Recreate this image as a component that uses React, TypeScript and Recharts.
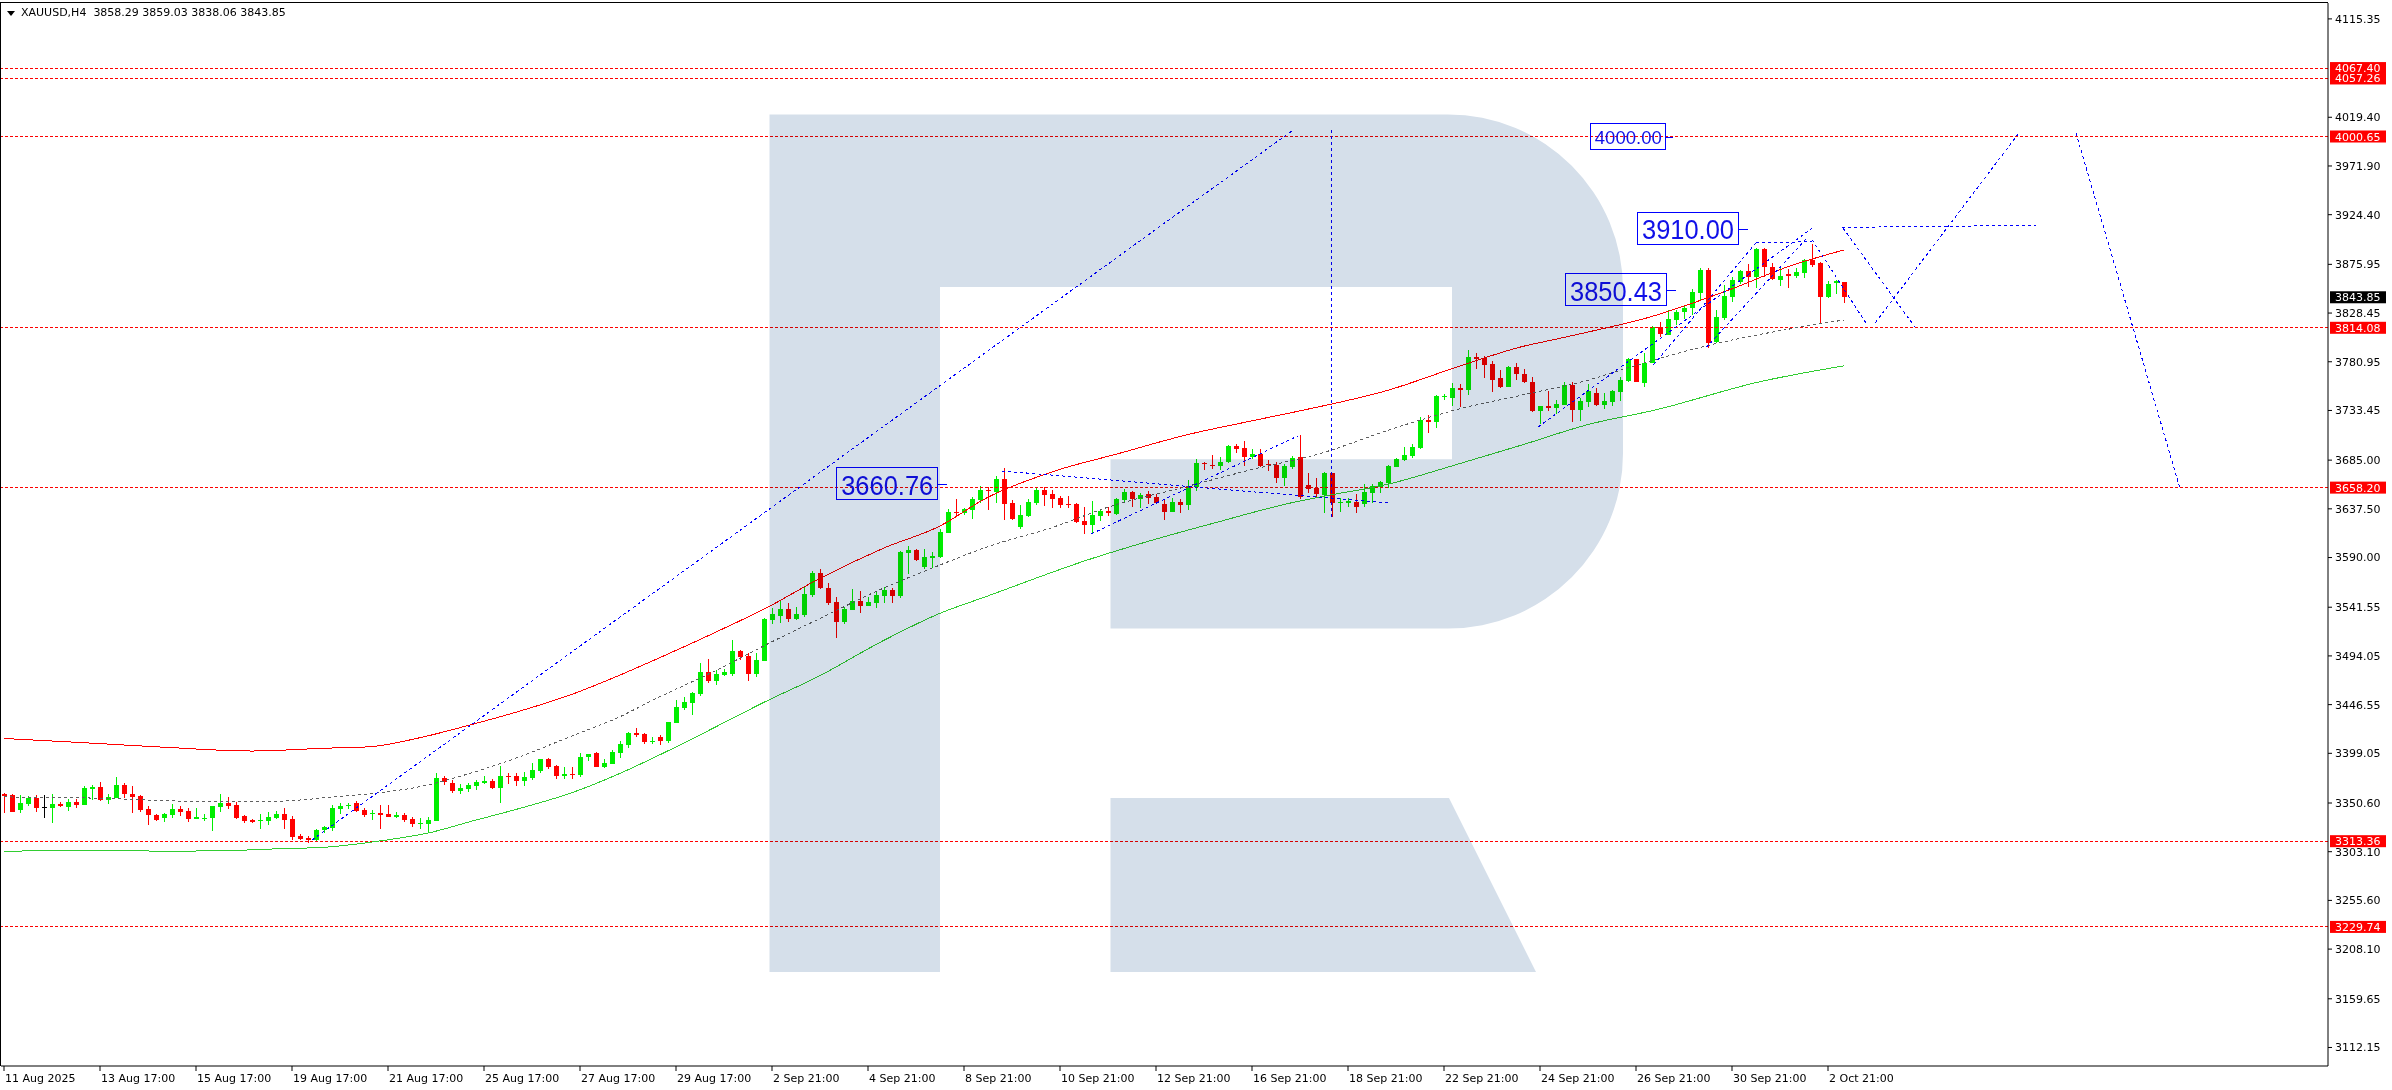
import React from 'react';
import { ComposedChart, Bar, Line, XAxis, YAxis, ReferenceLine, ReferenceDot } from 'recharts';

// XAUUSD H4, 11 Aug - 3 Oct 2025
const OPEN = [
  3359.7, 3358.4, 3343.8, 3349.9, 3355.8, 3346.4, 3346.1, 3349.3, 3347.0, 3351.5,
  3348.6, 3364.3, 3365.9, 3353.5, 3355.8, 3368.2, 3359.4, 3357.4, 3344.4, 3338.9,
  3336.0, 3338.9, 3344.8, 3342.8, 3335.3, 3335.6, 3336.3, 3347.0, 3350.9, 3348.6,
  3337.9, 3334.0, 3332.7, 3333.0, 3336.0, 3340.2, 3335.0, 3318.4, 3316.5, 3314.5,
  3324.3, 3326.5, 3344.8, 3347.4, 3350.3, 3343.8, 3339.5, 3340.9, 3339.9, 3337.3,
  3338.9, 3335.0, 3330.6, 3330.4, 3333.0, 3375.0, 3370.1, 3362.3, 3364.3, 3367.5,
  3370.1, 3372.1, 3365.6, 3377.3, 3376.9, 3372.4, 3375.3, 3382.1, 3393.8, 3386.7,
  3377.3, 3378.9, 3377.9, 3395.1, 3399.0, 3385.7, 3389.0, 3399.7, 3407.2, 3418.6,
  3417.6, 3410.4, 3414.5, 3411.0, 3429.0, 3443.3, 3447.8, 3456.9, 3478.4, 3469.9,
  3475.8, 3476.4, 3498.8, 3494.0, 3476.7, 3489.1, 3529.1, 3533.1, 3539.5, 3530.1,
  3533.6, 3553.1, 3574.9, 3560.6, 3546.6, 3527.5, 3539.2, 3547.6, 3543.1, 3546.0,
  3552.8, 3558.4, 3552.8, 3594.8, 3597.4, 3580.8, 3589.9, 3590.2, 3613.9, 3634.4,
  3633.1, 3636.7, 3646.1, 3655.9, 3654.3, 3666.6, 3642.9, 3619.5, 3630.5, 3643.5,
  3655.9, 3652.0, 3648.1, 3641.9, 3642.2, 3625.6, 3621.7, 3630.5, 3635.7, 3632.5,
  3646.1, 3653.9, 3646.8, 3651.6, 3648.7, 3642.2, 3634.4, 3644.5, 3640.9, 3658.5,
  3682.5, 3680.6, 3679.6, 3682.9, 3699.1, 3697.2, 3688.4, 3691.3, 3680.9, 3680.6,
  3667.9, 3678.6, 3688.1, 3660.4, 3658.2, 3651.0, 3672.1, 3642.9, 3643.5, 3644.2,
  3642.2, 3652.6, 3659.1, 3663.0, 3678.6, 3685.1, 3689.0, 3697.2, 3724.1, 3722.5,
  3746.9, 3745.9, 3755.3, 3753.4, 3785.9, 3784.9, 3778.8, 3764.8, 3756.7, 3775.5,
  3769.0, 3761.5, 3733.3, 3737.8, 3736.2, 3738.8, 3758.3, 3733.9, 3741.7, 3750.8,
  3738.8, 3742.0, 3751.8, 3762.2, 3783.6, 3760.3, 3780.1, 3814.5, 3807.1, 3821.7,
  3829.2, 3833.7, 3848.3, 3870.5, 3800.6, 3823.3, 3844.4, 3858.4, 3869.5, 3863.9,
  3890.6, 3873.7, 3860.7, 3866.5, 3864.6, 3867.9, 3880.2, 3877.0, 3844.4, 3857.3,
  3858.29,
];
const HIGH = [
  3360.6, 3359.4, 3358.4, 3357.4, 3358.4, 3358.4, 3359.4, 3351.9, 3354.2, 3354.2,
  3367.5, 3368.2, 3370.8, 3359.4, 3375.6, 3370.4, 3367.2, 3358.4, 3347.7, 3339.9,
  3340.5, 3349.3, 3348.0, 3345.4, 3345.4, 3339.9, 3348.0, 3359.4, 3356.1, 3351.9,
  3338.9, 3335.0, 3339.9, 3342.2, 3343.1, 3345.4, 3337.9, 3320.4, 3318.4, 3324.9,
  3328.2, 3348.7, 3350.6, 3350.6, 3352.6, 3346.1, 3343.8, 3348.7, 3348.7, 3342.2,
  3340.5, 3336.6, 3335.7, 3336.6, 3379.5, 3376.9, 3373.0, 3369.1, 3369.8, 3373.0,
  3376.9, 3373.7, 3386.7, 3380.2, 3380.2, 3380.8, 3389.3, 3393.8, 3394.8, 3387.7,
  3385.4, 3385.4, 3399.0, 3398.7, 3400.0, 3393.2, 3402.3, 3411.1, 3420.2, 3423.4,
  3418.9, 3414.6, 3416.5, 3429.9, 3451.1, 3454.3, 3459.2, 3486.8, 3490.7, 3480.3,
  3481.0, 3509.6, 3499.8, 3497.2, 3496.6, 3531.4, 3540.5, 3547.6, 3545.3, 3542.1,
  3561.6, 3576.9, 3578.8, 3564.8, 3551.2, 3542.1, 3559.0, 3557.4, 3551.8, 3557.4,
  3561.6, 3560.0, 3596.4, 3601.3, 3598.3, 3598.3, 3595.4, 3617.5, 3637.0, 3646.8,
  3638.6, 3649.4, 3659.8, 3659.1, 3669.5, 3677.0, 3646.1, 3641.2, 3646.8, 3657.5,
  3658.5, 3655.9, 3650.3, 3650.0, 3643.5, 3639.0, 3645.5, 3637.7, 3639.6, 3647.7,
  3656.9, 3655.2, 3652.6, 3654.6, 3652.0, 3646.1, 3647.7, 3646.8, 3665.6, 3686.1,
  3683.5, 3690.0, 3688.4, 3699.8, 3700.4, 3703.7, 3695.5, 3695.9, 3685.1, 3683.5,
  3680.9, 3689.4, 3709.5, 3672.1, 3667.3, 3673.8, 3672.8, 3647.7, 3647.7, 3652.0,
  3661.7, 3661.7, 3664.9, 3680.2, 3686.8, 3697.5, 3700.7, 3726.7, 3729.0, 3748.5,
  3749.2, 3759.9, 3759.3, 3792.4, 3789.2, 3786.6, 3782.0, 3772.9, 3776.8, 3780.1,
  3773.6, 3765.8, 3738.0, 3752.4, 3743.7, 3761.5, 3761.5, 3745.3, 3759.3, 3755.0,
  3750.8, 3753.4, 3766.4, 3784.6, 3784.0, 3789.2, 3815.5, 3820.1, 3831.4, 3831.4,
  3836.3, 3851.9, 3872.7, 3872.7, 3831.4, 3855.8, 3863.9, 3870.5, 3876.0, 3891.6,
  3891.6, 3877.0, 3873.7, 3871.4, 3872.7, 3881.2, 3895.5, 3878.6, 3859.7, 3860.7,
  3859.03,
];
const LOW = [
  3341.2, 3342.0, 3341.2, 3348.0, 3342.2, 3336.3, 3331.4, 3346.4, 3343.1, 3346.1,
  3348.3, 3353.5, 3352.9, 3349.6, 3355.5, 3355.8, 3341.2, 3342.2, 3329.1, 3333.5,
  3332.0, 3336.3, 3338.3, 3332.4, 3334.7, 3333.0, 3323.6, 3342.2, 3344.4, 3335.3,
  3331.4, 3330.8, 3325.2, 3329.1, 3335.0, 3325.2, 3314.5, 3314.5, 3311.9, 3312.9,
  3321.6, 3323.3, 3339.9, 3344.8, 3341.5, 3337.3, 3334.0, 3325.2, 3337.0, 3335.7,
  3332.4, 3327.5, 3325.6, 3321.0, 3332.8, 3368.2, 3360.0, 3359.7, 3361.7, 3363.3,
  3369.1, 3364.6, 3350.9, 3369.1, 3367.5, 3367.5, 3373.0, 3380.2, 3383.4, 3374.0,
  3373.7, 3373.7, 3376.3, 3391.9, 3385.6, 3385.0, 3388.7, 3394.2, 3404.6, 3415.3,
  3408.2, 3408.2, 3407.5, 3409.0, 3428.5, 3441.3, 3436.5, 3455.0, 3467.3, 3465.7,
  3474.5, 3474.5, 3490.1, 3469.9, 3473.8, 3488.8, 3525.2, 3526.5, 3526.8, 3529.1,
  3532.3, 3551.8, 3559.0, 3543.7, 3511.8, 3525.2, 3538.8, 3535.6, 3542.8, 3540.5,
  3546.0, 3545.3, 3550.2, 3573.6, 3587.0, 3579.2, 3580.1, 3589.9, 3613.6, 3629.9,
  3631.8, 3627.3, 3642.9, 3636.4, 3643.5, 3626.6, 3626.6, 3617.8, 3629.9, 3641.2,
  3640.3, 3638.6, 3638.0, 3638.0, 3623.4, 3613.0, 3612.6, 3626.0, 3630.5, 3631.5,
  3644.5, 3639.6, 3638.6, 3642.2, 3641.9, 3626.6, 3634.0, 3633.1, 3636.4, 3654.9,
  3675.4, 3676.0, 3675.4, 3681.9, 3691.6, 3679.3, 3686.4, 3678.6, 3674.7, 3663.0,
  3659.8, 3676.0, 3646.8, 3652.6, 3647.7, 3633.8, 3629.9, 3634.7, 3639.6, 3633.1,
  3639.6, 3642.9, 3652.6, 3657.5, 3678.3, 3684.5, 3686.8, 3695.5, 3711.8, 3716.7,
  3743.7, 3737.8, 3737.2, 3748.5, 3773.9, 3764.8, 3751.8, 3755.7, 3756.4, 3763.2,
  3760.6, 3732.3, 3719.9, 3732.9, 3729.7, 3738.5, 3722.5, 3723.5, 3737.2, 3737.8,
  3734.9, 3737.8, 3743.0, 3761.5, 3761.0, 3756.0, 3779.4, 3805.4, 3806.8, 3816.8,
  3822.7, 3826.6, 3841.2, 3794.0, 3798.9, 3821.7, 3839.6, 3856.5, 3854.2, 3853.2,
  3863.9, 3860.7, 3855.2, 3853.2, 3862.3, 3862.3, 3873.7, 3818.4, 3843.5, 3846.7,
  3838.06,
];
const CLOSE = [
  3357.8, 3342.2, 3350.3, 3355.8, 3345.4, 3346.4, 3349.3, 3347.7, 3351.5, 3348.6,
  3364.9, 3365.9, 3353.5, 3356.5, 3368.2, 3359.1, 3356.8, 3343.8, 3338.6, 3334.0,
  3339.9, 3344.8, 3341.8, 3335.0, 3337.0, 3336.3, 3347.7, 3350.9, 3348.0, 3336.3,
  3333.0, 3332.4, 3334.0, 3337.0, 3340.2, 3334.0, 3317.8, 3315.5, 3314.5, 3324.3,
  3327.5, 3346.1, 3348.0, 3349.0, 3343.1, 3339.2, 3341.2, 3339.2, 3337.3, 3338.9,
  3334.0, 3330.4, 3331.2, 3334.0, 3375.0, 3371.1, 3362.6, 3365.2, 3368.2, 3371.4,
  3372.1, 3365.6, 3376.9, 3376.3, 3372.4, 3375.9, 3382.8, 3393.5, 3386.0, 3377.3,
  3378.9, 3377.9, 3395.1, 3398.1, 3386.0, 3389.3, 3400.4, 3408.2, 3418.9, 3416.6,
  3410.4, 3411.1, 3411.5, 3429.3, 3443.9, 3449.1, 3457.9, 3478.4, 3469.9, 3476.4,
  3478.4, 3498.8, 3493.3, 3476.7, 3490.1, 3530.1, 3535.0, 3539.5, 3530.1, 3535.0,
  3554.4, 3574.9, 3560.3, 3546.0, 3527.5, 3539.8, 3547.6, 3543.1, 3546.6, 3553.5,
  3558.7, 3552.8, 3595.7, 3597.4, 3587.6, 3590.2, 3591.2, 3614.9, 3634.4, 3633.1,
  3637.3, 3646.8, 3655.9, 3654.6, 3666.3, 3642.2, 3627.6, 3631.2, 3644.2, 3655.9,
  3651.0, 3647.4, 3641.2, 3640.9, 3625.0, 3622.1, 3631.5, 3635.4, 3633.4, 3647.1,
  3653.9, 3646.8, 3650.7, 3648.4, 3643.5, 3634.4, 3644.2, 3641.2, 3658.5, 3682.5,
  3680.9, 3679.9, 3683.2, 3699.1, 3695.9, 3688.4, 3691.3, 3679.6, 3679.9, 3667.6,
  3679.3, 3686.8, 3648.7, 3657.2, 3651.6, 3672.1, 3642.9, 3644.2, 3645.1, 3639.6,
  3653.6, 3659.8, 3664.0, 3679.6, 3686.1, 3690.0, 3698.1, 3724.1, 3722.5, 3747.6,
  3747.9, 3755.0, 3753.7, 3785.3, 3783.9, 3778.1, 3763.2, 3756.7, 3775.8, 3768.7,
  3761.5, 3732.9, 3737.8, 3736.2, 3739.8, 3758.3, 3733.9, 3743.0, 3752.4, 3738.8,
  3742.7, 3752.4, 3763.2, 3783.6, 3761.5, 3780.1, 3814.5, 3807.7, 3822.7, 3829.2,
  3833.1, 3848.7, 3870.5, 3798.9, 3824.3, 3845.1, 3860.7, 3869.5, 3863.9, 3890.6,
  3873.7, 3861.3, 3864.6, 3864.9, 3868.2, 3880.2, 3875.3, 3844.4, 3856.8, 3859.7,
  3843.85,
];

// indicator lines, [bar index, price]
const UPPER_LINE = [
  [0, 3413.5], [10, 3409.4], [20, 3405], [31, 3401.3], [40, 3404], [45.75, 3405.5], [52, 3414.3],
  [58.25, 3426.7], [64.5, 3440.3], [70.75, 3455.9], [77, 3475.4], [81, 3489], [89.1, 3517.7],
  [95.6, 3542.1], [101.6, 3568.1], [109.9, 3599], [117, 3620.8], [122.75, 3647.8], [131.1, 3673.8],
  [139.4, 3691.6], [147.75, 3709.5], [156.1, 3723.5], [162.5, 3733.9], [173.1, 3753.4],
  [181.4, 3775.2], [189.75, 3795.7], [194.5, 3803.8], [199.1, 3811.9], [204.9, 3822.7],
  [215.3, 3850], [223.6, 3875.3], [230, 3890],
];
const MIDDLE_LINE = [
  [0, 3356.5], [13, 3355], [18, 3353.5], [25, 3352], [33, 3352], [37, 3353.5], [41, 3356.5],
  [47, 3360.7], [52, 3366.5], [58.25, 3379.5], [64.5, 3395.8], [70.75, 3415.3], [77, 3434.8],
  [81, 3450.5], [89.1, 3480.3], [95.6, 3506.3], [101.6, 3529.1], [109.9, 3560], [117, 3582.7],
  [122.75, 3600], [131.1, 3619.5], [138.2, 3639.6], [147.75, 3659.1], [156.1, 3676],
  [164.75, 3692], [173.1, 3714.4], [181.4, 3733.9], [189.75, 3748.5], [198.1, 3763.2],
  [202.8, 3774.6], [213.25, 3797.3], [223.7, 3813.6], [230, 3821.7],
];
const LOWER_LINE = [
  [0, 3303], [5, 3304.3], [20, 3303.7], [27, 3303.9], [33, 3305.6], [36, 3306.3], [40, 3307.4],
  [47, 3313.6], [53.25, 3321.7], [58.25, 3332.4], [64.5, 3345.4], [70.75, 3360], [77, 3379.5],
  [81.5, 3395.8], [85.75, 3412.1], [95.6, 3451.1], [101.6, 3473.2], [109.9, 3508.9], [117, 3535.6],
  [122.75, 3551.9], [135.7, 3588.3], [143.6, 3607.1], [151.9, 3625], [160.25, 3642.2],
  [164.75, 3649.5], [173.1, 3661.7], [181.4, 3680.3], [189.75, 3699.8], [198.1, 3719.9],
  [206.4, 3733.9], [219.5, 3761.5], [230, 3777],
];

// blue forecast segments
const FORECAST = [
  [[38.5, 3314.5], [161.2, 4007.3]],
  [[165.9, 4007], [165.9, 3626.6]],
  [[124.8, 3674.4], [173.3, 3643]],
  [[135.9, 3613], [161.7, 3708.5]],
  [[191.8, 3717.6], [226, 3911]],
  [[206.2, 3778], [219, 3897]],
  [[212.8, 3795], [225.3, 3901]],
  [[219, 3897], [226, 3898]],
  [[226, 3900], [232.8, 3818]],
  [[229.9, 3911], [238.9, 3814.5]],
  [[229.8, 3912], [254, 3914]],
  [[233.9, 3819], [252, 4005.4]],
  [[259, 4004], [272, 3657.5]],
];

const NOTES = [
  { text: '3660.76', i: 117.9, v: 3660.76, big: true },
  { text: '3850.43', i: 209, v: 3850.43, big: true },
  { text: '3910.00', i: 218, v: 3910.0, big: true },
  { text: '4000.00', i: 208.6, v: 4000.0, big: false },
];

const LEVELS = [4057.26, 4067.4, 4000.65, 3814.08, 3658.2, 3313.36, 3229.74];
const LAST_PRICE = 3843.85;

const PRICE_TICKS = [
  4115.35, 4019.4, 3971.9, 3924.4, 3875.95, 3828.45, 3780.95, 3733.45, 3685.0, 3637.5, 3590.0,
  3541.55, 3494.05, 3446.55, 3399.05, 3350.6, 3303.1, 3255.6, 3208.1, 3159.65, 3112.15,
];
const TIME_TICKS = [0, 12, 24, 36, 48, 60, 72, 84, 96, 108, 120, 132, 144, 156, 168, 180, 192, 204, 216, 228];
const TIME_LABELS = [
  '11 Aug 2025', '13 Aug 17:00', '15 Aug 17:00', '19 Aug 17:00', '21 Aug 17:00', '25 Aug 17:00',
  '27 Aug 17:00', '29 Aug 17:00', '2 Sep 21:00', '4 Sep 21:00', '8 Sep 21:00', '10 Sep 21:00',
  '12 Sep 21:00', '16 Sep 21:00', '18 Sep 21:00', '22 Sep 21:00', '24 Sep 21:00', '26 Sep 21:00',
  '30 Sep 21:00', '2 Oct 21:00',
];

const W = 2392;
const H = 1090;
const FONT = 'DejaVu Sans';
const BULL = '#00ee00';
const BEAR = '#ff0000';
const BLUE = '#0000ff';

const candles = OPEN.map((open, i) => ({ i, open, high: HIGH[i], low: LOW[i], close: CLOSE[i] }));
const pts = (arr: number[][]) => arr.map(([i, v]) => ({ i, v }));

const Candle = (props: any) => {
  const { x, y, width, height, payload } = props;
  const { open, close, high, low } = payload;
  const cx = Math.round(x + width / 2);
  const k = high > low ? height / (high - low) : 0;
  const py = (v: number) => y + (high - v) * k;
  const top = py(Math.max(open, close));
  const bot = py(Math.min(open, close));
  const color = close > open ? BULL : close < open ? BEAR : '#000';
  return (
    <g shapeRendering="crispEdges">
      <rect x={cx} y={y} width={1} height={Math.max(1, height)} fill={color} />
      <rect x={cx - 2} y={top} width={5} height={Math.max(1, bot - top)} fill={color} />
    </g>
  );
};

const XTick = (props: any) => {
  const { x, y, payload } = props;
  const k = TIME_TICKS.indexOf(payload.value);
  return (
    <text x={x + 1} y={y + 9} fontSize={11} fontFamily={FONT} fill="#000">
      {TIME_LABELS[k]}
    </text>
  );
};

const priceTag = (value: number, bg: string) => (p: any) => {
  const vb = p.viewBox;
  const x0 = vb.x + vb.width + 2;
  return (
    <g>
      <rect x={x0} y={vb.y - 6} width={56} height={12} fill={bg} />
      <text x={x0 + 5} y={vb.y + 4} fontSize={11} fontFamily={FONT} fill="#fff">
        {value.toFixed(2)}
      </text>
    </g>
  );
};

const noteShape = (text: string, big: boolean) => (p: any) => {
  const { cx, cy } = p;
  if (big) {
    return (
      <g>
        <rect x={cx - 111} y={cy - 17} width={101} height={32} fill="none" stroke={BLUE} shapeRendering="crispEdges" />
        <line x1={cx - 10} y1={cy} x2={cx} y2={cy} stroke={BLUE} shapeRendering="crispEdges" />
        <text x={cx - 106} y={cy + 10} fontSize={28} fontFamily="Liberation Sans" fill="#1010e8"
          textLength={92} lengthAdjust="spacingAndGlyphs">{text}</text>
      </g>
    );
  }
  return (
    <g>
      <rect x={cx - 82} y={cy - 14} width={75} height={26} fill="none" stroke={BLUE} shapeRendering="crispEdges" />
      <line x1={cx - 7} y1={cy} x2={cx} y2={cy} stroke={BLUE} shapeRendering="crispEdges" />
      <text x={cx - 78} y={cy + 7} fontSize={19} fontFamily="Liberation Sans" fill="#1010e8"
        textLength={67} lengthAdjust="spacingAndGlyphs">{text}</text>
    </g>
  );
};

const Watermark = () => (
  <svg width={W} height={H} style={{ position: 'absolute', left: 0, top: 0, pointerEvents: 'none', mixBlendMode: 'multiply' }}>
    <path
      d="M769.5,114.5 H1448 A175,175 0 0 1 1623,289.5 V453.5 A175,175 0 0 1 1448,628.5 H1110.5 V459.3 H1452 V287 H940 V972 H769.5 Z"
      fill="#d5dfea"
    />
    <path d="M1110.5,798 H1449 L1536,972 H1110.5 Z" fill="#d5dfea" />
  </svg>
);

const lineProps = { dot: false, activeDot: false, isAnimationActive: false, shapeRendering: 'crispEdges' } as any;

export default function App() {
  return (
    <div style={{ position: 'absolute', left: 0, top: 0, width: W, height: H, background: '#fff', overflow: 'hidden' }}>
      <ComposedChart width={W} height={H} data={candles} margin={{ top: 3, right: 0, bottom: 0, left: 1 }}>
        <XAxis
          type="number"
          dataKey="i"
          domain={[-0.375, 290.5]}
          allowDataOverflow
          ticks={TIME_TICKS}
          interval={0}
          height={24}
          tickSize={5}
          tick={<XTick />}
          axisLine={{ stroke: '#000' }}
          tickLine={{ stroke: '#000' }}
        />
        <YAxis
          orientation="right"
          type="number"
          domain={[3094.09, 4130.86]}
          allowDataOverflow
          ticks={PRICE_TICKS}
          interval={0}
          width={64}
          tickSize={4}
          tickMargin={3}
          tickFormatter={(v: number) => v.toFixed(2)}
          tick={{ fontSize: 11, fill: '#000', fontFamily: FONT }}
          axisLine={{ stroke: '#000' }}
          tickLine={{ stroke: '#000' }}
        />
        {LEVELS.map((lv) => (
          <ReferenceLine key={lv} y={lv} stroke="#ff0000" strokeDasharray="3 2" shapeRendering="crispEdges" label={priceTag(lv, '#ff0000')} />
        ))}
        <ReferenceLine y={LAST_PRICE} stroke="none" label={priceTag(LAST_PRICE, '#000')} />
        <Line data={pts(UPPER_LINE)} dataKey="v" type="monotone" stroke="#ff0000" strokeWidth={1} {...lineProps} />
        <Line data={pts(MIDDLE_LINE)} dataKey="v" type="monotone" stroke="#606060" strokeWidth={1} strokeDasharray="3 3" {...lineProps} />
        <Line data={pts(LOWER_LINE)} dataKey="v" type="monotone" stroke="#32cd32" strokeWidth={1} {...lineProps} />
        {FORECAST.map((seg, k) => (
          <Line key={k} data={pts(seg)} dataKey="v" type="linear" stroke={BLUE} strokeDasharray="3 3" {...lineProps} />
        ))}
        <Bar dataKey={(d: any) => [d.low, d.high]} barSize={5} shape={Candle} isAnimationActive={false} />
        {NOTES.map((n) => (
          <ReferenceDot key={n.text} x={n.i} y={n.v} r={0} shape={noteShape(n.text, n.big)} />
        ))}
      </ComposedChart>
      <div style={{ position: 'absolute', left: 0, top: 2, width: 1, height: 1064, background: '#000' }} />
      <div style={{ position: 'absolute', left: 0, top: 2, width: 2328, height: 1, background: '#000' }} />
      <div style={{ position: 'absolute', left: 7, top: 6, fontFamily: FONT, fontSize: 11, lineHeight: '13px', whiteSpace: 'pre', color: '#000' }}>
        <svg width={8} height={6} style={{ position: 'absolute', left: 0, top: 5 }}>
          <polygon points="0,0 8,0 4,5" fill="#000" />
        </svg>
        <span style={{ marginLeft: 14 }}>XAUUSD,H4  3858.29 3859.03 3838.06 3843.85</span>
      </div>
      <Watermark />
    </div>
  );
}
